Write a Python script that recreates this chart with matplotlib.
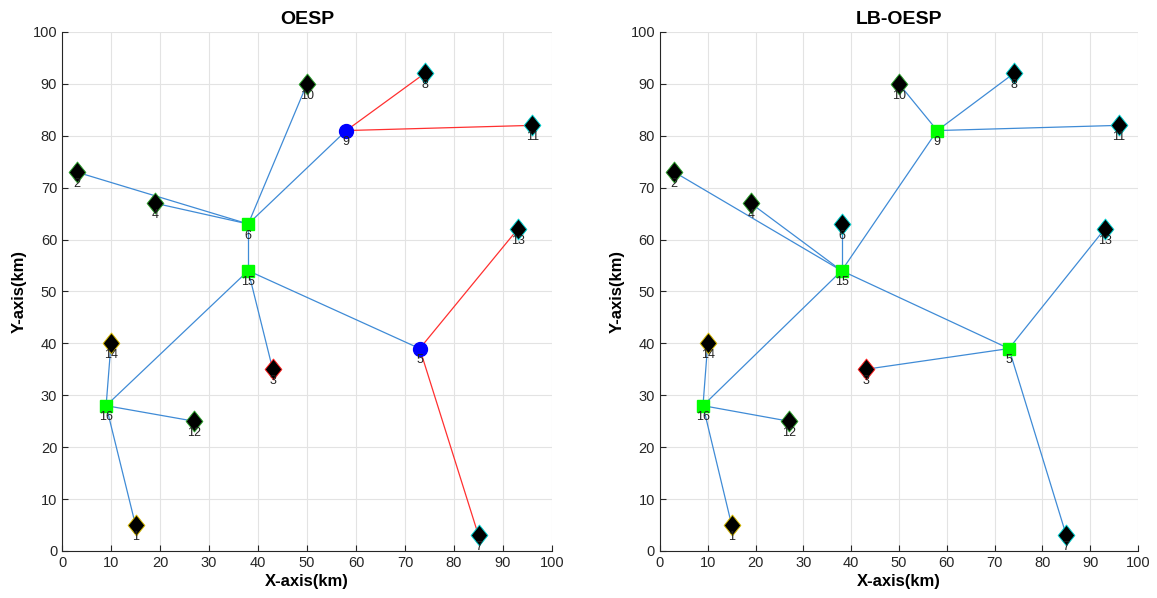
import matplotlib
matplotlib.use("Agg")
import matplotlib.pyplot as plt
from matplotlib.path import Path

plt.rcParams['font.family'] = ['Liberation Sans', 'DejaVu Sans']

# Node coordinates (km), node ids 1..16
node_ids = list(range(1, 17))
node_x = [15, 3, 43, 19, 73, 38, 85, 74, 58, 50, 96, 27, 93, 10, 38, 9]
node_y = [5, 73, 35, 67, 39, 63, 3, 92, 81, 90, 82, 25, 62, 40, 54, 28]
node_edge = ['#d4b800', '#2ca02c', '#ff2020', '#2ca02c', '#00d0d0', '#00d0d0',
             '#00d0d0', '#00d0d0', '#00d0d0', '#2ca02c', '#00d0d0', '#2ca02c',
             '#00d0d0', '#d4b800', '#00d0d0', '#00d0d0']

# OESP topology
oesp_heads = [6, 15, 16]
oesp_relays = [9, 5]
oesp_blue_links = [(6, 2), (6, 4), (6, 10), (6, 9), (6, 15), (15, 16), (15, 3),
                   (15, 5), (16, 14), (16, 12), (16, 1)]
oesp_red_links = [(9, 8), (9, 11), (5, 13), (5, 7)]

# LB-OESP topology
lb_heads = [9, 15, 5, 16]
lb_relays = []
lb_blue_links = [(15, 2), (15, 4), (15, 6), (15, 9), (9, 10), (9, 8), (9, 11),
                 (15, 5), (5, 3), (5, 13), (5, 7), (15, 16), (16, 14), (16, 12),
                 (16, 1)]
lb_red_links = []

ticks = [0, 10, 20, 30, 40, 50, 60, 70, 80, 90, 100]
BLUE = '#3f8bd6'
RED = '#ff3030'

# slightly tall diamond for ordinary nodes
DIAMOND = Path([(0, 1), (0.8, 0), (0, -1), (-0.8, 0), (0, 1)],
               [Path.MOVETO, Path.LINETO, Path.LINETO, Path.LINETO, Path.CLOSEPOLY])


def draw_panel(ax, title, heads, relays, blue_links, red_links):
    def xy(n):
        return node_x[n - 1], node_y[n - 1]

    for a, b in blue_links:
        (x1, y1), (x2, y2) = xy(a), xy(b)
        ax.plot([x1, x2], [y1, y2], color=BLUE, lw=0.9, zorder=2)
    for a, b in red_links:
        (x1, y1), (x2, y2) = xy(a), xy(b)
        ax.plot([x1, x2], [y1, y2], color=RED, lw=0.9, zorder=2)

    for n in node_ids:
        x, y = xy(n)
        if n in heads:
            ax.plot(x, y, marker='s', ms=8, color='#00ff00', mec='#00ff00', zorder=4)
        elif n in relays:
            ax.plot(x, y, marker='o', ms=10, color='#0000ff', mec='#0000ff', zorder=4)
        else:
            ax.plot(x, y, marker=DIAMOND, ms=15, color='black', mec=node_edge[n - 1],
                    mew=0.7, zorder=4)
        ax.text(x, y - 1.1, str(n), ha='center', va='top', fontsize=9,
                color='#222222', zorder=5)

    ax.set_xlim(0, 100)
    ax.set_ylim(0, 100)
    ax.set_xticks(ticks)
    ax.set_yticks(ticks)
    ax.grid(True, color='#e3e3e3', lw=0.8)
    ax.set_axisbelow(True)
    for s in ('top', 'right'):
        ax.spines[s].set_visible(False)
    for s in ('left', 'bottom'):
        ax.spines[s].set_color('#262626')
        ax.spines[s].set_linewidth(0.8)
    ax.tick_params(direction='in', length=4, labelsize=10.5, colors='#262626')
    ax.set_title(title, fontsize=14, fontweight='bold', pad=6)
    ax.set_xlabel('X-axis(km)', fontsize=12, fontweight='bold', labelpad=3)
    ax.set_ylabel('Y-axis(km)', fontsize=12, fontweight='bold', labelpad=4)


fig = plt.figure(figsize=(11.57, 5.98), dpi=100)
ax1 = fig.add_axes([0.0536, 0.0786, 0.4235, 0.868])
ax2 = fig.add_axes([0.5704, 0.0786, 0.4132, 0.868])
draw_panel(ax1, 'OESP', oesp_heads, oesp_relays, oesp_blue_links, oesp_red_links)
draw_panel(ax2, 'LB-OESP', lb_heads, lb_relays, lb_blue_links, lb_red_links)

fig.savefig('out.png', dpi=100)
